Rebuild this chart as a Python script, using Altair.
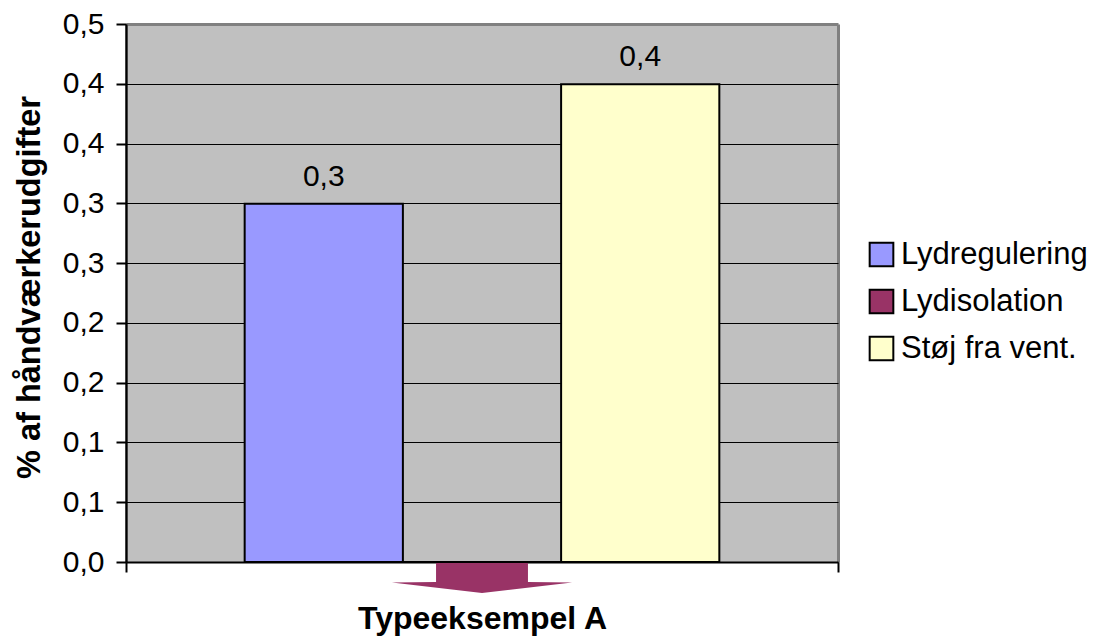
import altair as alt
import pandas as pd

# Chart values
kategori = "Typeeksempel A"
serier = ["Lydregulering", "Lydisolation", "Støj fra vent."]
andele = [0.333, 0.0, 0.444]
farver = ["#9999FF", "#993366", "#FFFFCC"]
y_ticks = [0.0, 0.0556, 0.1111, 0.1667, 0.2222, 0.2778, 0.3333, 0.3889, 0.4444, 0.5]
pil_serie = "Lydisolation"

FONT = "Liberation Sans"
COMMA_FMT = "replace(format({v}, '.1f'), '.', ',')"

df = pd.DataFrame({"kategori": kategori, "serie": serier, "andel": andele})
pil = pd.DataFrame({"kategori": [kategori], "serie": [pil_serie], "andel": [0.0]})

x_enc = alt.X(
    "kategori:N",
    scale=alt.Scale(paddingInner=0, paddingOuter=0),
    axis=alt.Axis(
        labels=False,
        tickBand="extent",
        tickSize=10,
        tickColor="black",
        tickWidth=2,
        domainColor="black",
        domainWidth=2,
        grid=True,
        gridColor="#808080",
        gridWidth=3,
        title=kategori,
        titleFont=FONT,
        titleFontSize=32,
        titleFontWeight="bold",
        titleColor="black",
        titlePadding=30,
    ),
)
xoff_enc = alt.XOffset(
    "serie:N", scale=alt.Scale(domain=serier, paddingInner=0, paddingOuter=0.75)
)
y_enc = alt.Y(
    "andel:Q",
    scale=alt.Scale(domain=[0, 0.5], nice=False, zero=True),
    axis=alt.Axis(
        values=y_ticks,
        labelExpr=COMMA_FMT.format(v="datum.value"),
        labelFont=FONT,
        labelFontSize=30,
        labelColor="black",
        labelPadding=12,
        tickSize=10,
        tickColor="black",
        tickWidth=2,
        domainColor="black",
        domainWidth=2,
        grid=True,
        gridColor={"condition": {"test": "datum.value >= 0.5", "value": "#808080"}, "value": "black"},
        gridWidth={"condition": {"test": "datum.value >= 0.5", "value": 3}, "value": 1.2},
        title="% af håndværkerudgifter",
        titleFont=FONT,
        titleFontSize=32.5,
        titleFontWeight="bold",
        titleColor="black",
        titleAngle=270,
        titleAlign="center",
        titleBaseline="middle",
        titleX=-97,
        titleY=263,
    ),
)

bars = alt.Chart(df).mark_bar(stroke="black", strokeWidth=2).encode(
    x=x_enc,
    xOffset=xoff_enc,
    y=y_enc,
    color=alt.Color(
        "serie:N",
        scale=alt.Scale(domain=serier, range=farver),
        legend=alt.Legend(
            orient="none",
            legendX=740,
            legendY=215,
            title=None,
            padding=0,
            symbolType="square",
            symbolSize=560,
            symbolStrokeColor="black",
            symbolStrokeWidth=2,
            symbolOpacity=1,
            labelFont=FONT,
            labelFontSize=31,
            labelColor="black",
            labelOffset=4,
            labelLimit=400,
            rowPadding=14,
        ),
    ),
)

labels = (
    alt.Chart(df)
    .transform_filter("datum.andel > 0")
    .transform_calculate(etiket=COMMA_FMT.format(v="datum.andel"))
    .mark_text(baseline="alphabetic", dy=-18, font=FONT, fontSize=30, color="black")
    .encode(x=x_enc, xOffset=xoff_enc, y=y_enc, text="etiket:N")
)

# Block arrow below the axis, pointing down from the middle series slot
arrow_path = "M-0.505,0.012L0.505,0.012L0.505,0.22L0.99,0.225L0,0.34L-0.99,0.225L-0.505,0.22Z"
arrow = alt.Chart(pil).mark_point(
    shape=arrow_path, size=33124, filled=True, color="#993366", opacity=1, strokeWidth=0
).encode(x=x_enc, xOffset=xoff_enc, y=y_enc)

chart = (
    alt.layer(bars, labels, arrow)
    .properties(
        width=712,
        height=538,
        padding={"left": 126, "top": 24, "right": 256, "bottom": 76},
        autosize=alt.AutoSizeParams(type="none"),
        background="white",
    )
    .configure_view(fill="#C0C0C0", stroke=None)
)

chart.save("out.html", embed_options={"renderer": "svg", "actions": False})
